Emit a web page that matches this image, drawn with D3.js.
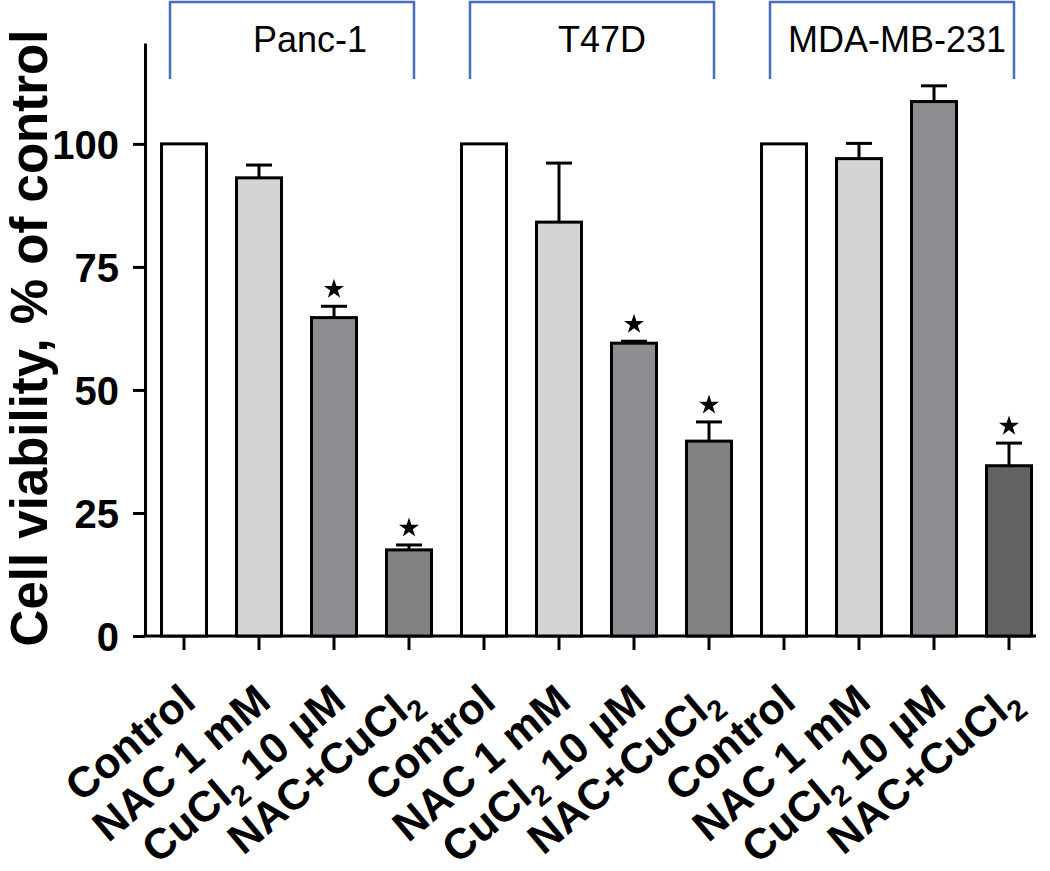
<!DOCTYPE html>
<html>
<head>
<meta charset="utf-8">
<script src="https://cdn.jsdelivr.net/npm/d3@7"></script>
<style>
  html, body { margin: 0; padding: 0; background: #fff; }
  svg { display: block; }
  text { font-family: "Liberation Sans", Arial, Helvetica, sans-serif; }
</style>
</head>
<body>
<svg id="chart" width="1050" height="871"></svg>
<script>
// ---- data ----
const cellLines = ["Panc-1", "T47D", "MDA-MB-231"];
const treatments = ["Control", "NAC 1 mM", "CuCl₂ 10 µM", "NAC+CuCl₂"];
const pancValues = [100, 93.1, 64.7, 17.5];
const pancErrors = [0, 2.6, 2.3, 1.0];
const t47dValues = [100, 84.1, 59.5, 39.6];
const t47dErrors = [0, 12.0, 0.4, 3.9];
const mdaValues = [100, 97.0, 108.6, 34.6];
const mdaErrors = [0, 3.1, 3.2, 4.6];
const pancStars = [false, false, true, true];
const t47dStars = [false, false, true, true];
const mdaStars = [false, false, false, true];
const yTicks = [0, 25, 50, 75, 100];
const yTitle = "Cell viability, % of control";

// layout-only tweak: horizontal nudge of each group title inside its bracket
const groupTitleNudge = [18, 10, 5];

// ---- build table ----
const valuesByLine = [pancValues, t47dValues, mdaValues];
const errorsByLine = [pancErrors, t47dErrors, mdaErrors];
const starsByLine = [pancStars, t47dStars, mdaStars];
const rows = [];
cellLines.forEach((line, li) => {
  treatments.forEach((t, ti) => {
    rows.push({
      key: li + "-" + ti, line: line, li: li, ti: ti, label: t,
      value: valuesByLine[li][ti], err: errorsByLine[li][ti], star: starsByLine[li][ti]
    });
  });
});

const fillFor = d => {
  if (d.ti === 0) return "#ffffff";
  if (d.ti === 1) return "#d4d4d4";
  if (d.ti === 2) return "#8e8d92";
  return d.li === 2 ? "#636363" : "#828282";
};

const svg = d3.select("#chart");
const x = d3.scaleBand()
  .domain(rows.map(d => d.key))
  .range([146.5, 1046.5])
  .paddingInner(0.36)
  .paddingOuter(0.18);
const y = d3.scaleLinear().domain([0, 120.5]).range([636, 43]);
const cx = k => x(k) + x.bandwidth() / 2;

// ---- y axis ----
const yAxis = svg.append("g")
  .attr("transform", "translate(145,0)")
  .call(d3.axisLeft(y).tickValues(yTicks).tickSize(12).tickSizeOuter(0).tickPadding(14));
yAxis.select(".domain").attr("stroke", "#000").attr("stroke-width", 3);
yAxis.selectAll(".tick line").attr("stroke", "#000").attr("stroke-width", 3);
yAxis.selectAll(".tick text")
  .attr("fill", "#000")
  .style("font-family", "'Liberation Sans', Arial, sans-serif")
  .style("font-size", "40px").style("font-weight", "bold")
  .attr("dy", "0.36em");

// ---- x axis ----
const xAxis = svg.append("g")
  .attr("transform", "translate(0,636)")
  .call(d3.axisBottom(x).tickSize(14).tickSizeOuter(0).tickFormat(""));
xAxis.select(".domain").remove();
xAxis.selectAll(".tick line").attr("stroke", "#000").attr("stroke-width", 3);
svg.append("line")
  .attr("x1", 143.5).attr("x2", 1036)
  .attr("y1", y(0)).attr("y2", y(0))
  .attr("stroke", "#000").attr("stroke-width", 3);

// ---- x labels (rotated, with subscripts) ----
const labels = svg.append("g");
rows.forEach(d => {
  const t = labels.append("text")
    .attr("text-anchor", "end")
    .attr("transform", `translate(${cx(d.key) + 14},705) rotate(-40)`)
    .style("font-size", "43px").style("font-weight", "bold").attr("fill", "#000");
  const parts = d.label.split("₂");
  parts.forEach((p, i) => {
    if (i > 0) {
      t.append("tspan").text("2").style("font-size", "29px").attr("dy", 10);
      t.append("tspan").text(p).attr("dy", -10);
    } else {
      t.append("tspan").text(p);
    }
  });
});

// ---- bars ----
svg.append("g").selectAll("rect").data(rows).join("rect")
  .attr("x", d => x(d.key) + 1.5)
  .attr("width", x.bandwidth() - 3)
  .attr("y", d => y(d.value))
  .attr("height", d => y(0) - y(d.value))
  .attr("fill", fillFor)
  .attr("stroke", "#000").attr("stroke-width", 3);

// ---- error bars (upper only) ----
const errRows = rows.filter(d => d.err > 0);
const eg = svg.append("g").attr("stroke", "#000").attr("stroke-width", 3);
eg.selectAll("line.v").data(errRows).join("line").attr("class", "v")
  .attr("x1", d => cx(d.key)).attr("x2", d => cx(d.key))
  .attr("y1", d => y(d.value)).attr("y2", d => y(d.value + d.err));
eg.selectAll("line.c").data(errRows).join("line").attr("class", "c")
  .attr("x1", d => cx(d.key) - 13).attr("x2", d => cx(d.key) + 13)
  .attr("y1", d => y(d.value + d.err)).attr("y2", d => y(d.value + d.err));

// ---- significance stars ----
svg.append("g").selectAll("path").data(rows.filter(d => d.star)).join("path")
  .attr("d", d3.symbol(d3.symbolStar, 125))
  .attr("transform", d => `translate(${cx(d.key)},${y(d.value + d.err) - 17})`)
  .attr("fill", "#000");

// ---- group brackets ----
const bg = svg.append("g");
cellLines.forEach((line, li) => {
  const first = cx(li + "-0"), last = cx(li + "-3");
  const x1 = first - 14, x2 = last + 5;
  bg.append("path")
    .attr("d", `M${x1},79 V2 H${x2} V79`)
    .attr("fill", "none").attr("stroke", "#4a6cbf").attr("stroke-width", 2.5);
  bg.append("text")
    .attr("x", (x1 + x2) / 2 + groupTitleNudge[li]).attr("y", 52)
    .attr("text-anchor", "middle")
    .style("font-size", "36px").attr("fill", "#000")
    .text(line);
});

// ---- y title ----
svg.append("text")
  .attr("transform", "translate(47,338) rotate(-90)")
  .attr("text-anchor", "middle")
  .style("font-size", "51px").style("font-weight", "bold").attr("fill", "#000")
  .text(yTitle);
</script>
</body>
</html>
